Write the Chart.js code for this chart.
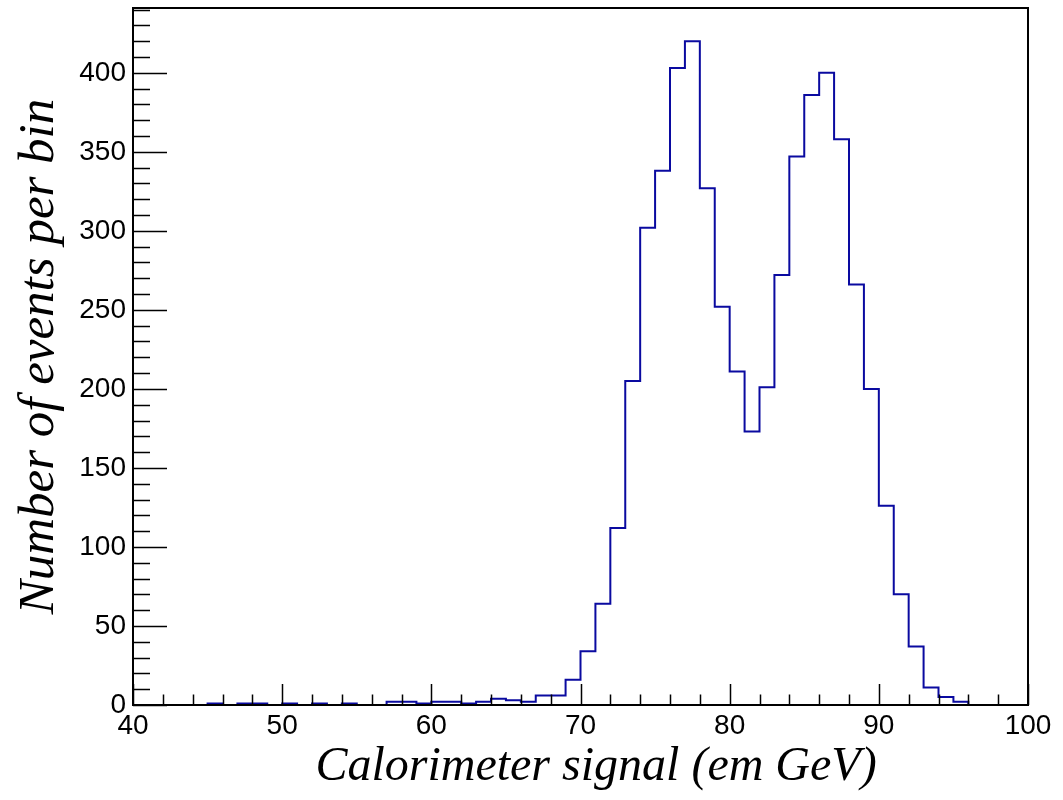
<!DOCTYPE html>
<html>
<head>
<meta charset="utf-8">
<title>Calorimeter signal</title>
<script src="https://cdn.jsdelivr.net/npm/chart.js@4/dist/chart.umd.min.js"></script>
<style>
  html, body { margin: 0; padding: 0; background: #fff; }
  #wrap { width: 1063px; height: 800px; }
</style>
</head>
<body>
<div id="wrap"><canvas id="histo" width="1063" height="800"></canvas></div>
<script>
// 1 GeV bins, lower edges 40..99
const binLow = [];
for (let e = 40; e < 100; e++) binLow.push(e);
const counts = [
  0, 0, 0, 0, 0, 1, 0, 1, 1, 0,          // 40-49
  1, 0, 1, 0, 1, 0, 0, 2, 2, 1,          // 50-59
  2, 2, 1, 2, 4, 3, 2, 6, 6, 16,         // 60-69
  34, 64, 112, 205, 302, 338, 403, 420, 327, 252,  // 70-79
  211, 173, 201, 272, 347, 386, 400, 358, 266, 200, // 80-89
  126, 70, 37, 11, 5, 2, 0, 0, 0, 0      // 90-99
];
const xRange = [40, 100];
const yRange = [0, 441];
const xMajorStep = 10, xMinorStep = 2;
const yMajorStep = 50, yMinorStep = 10;
const xTitle = "Calorimeter signal (em GeV)";
const yTitle = "Number of events per bin";

const points = binLow.map((x, i) => ({ x: x, y: counts[i] }));
points.push({ x: xRange[1], y: 0 });

// ROOT-like frame: box + ticks pointing inward, drawn over the histogram
const frameTicks = {
  id: "frameTicks",
  afterDatasetsDraw(chart) {
    const { ctx, chartArea: a, scales } = chart;
    const xs = scales.x, ys = scales.y;
    ctx.save();
    ctx.strokeStyle = "#000";
    ctx.lineWidth = 2;
    ctx.strokeRect(a.left, a.top, a.right - a.left, a.bottom - a.top);
    ctx.lineWidth = 1.5;
    ctx.beginPath();
    for (let v = xRange[0]; v <= xRange[1]; v += xMinorStep) {
      const px = Math.round(xs.getPixelForValue(v)) + 0.5;
      const len = v % xMajorStep === 0 ? 21 : 10.5;
      ctx.moveTo(px, a.bottom);
      ctx.lineTo(px, a.bottom - len);
    }
    for (let v = yRange[0]; v <= yRange[1]; v += yMinorStep) {
      const py = Math.round(ys.getPixelForValue(v)) + 0.5;
      const len = v % yMajorStep === 0 ? 34 : 17;
      ctx.moveTo(a.left, py);
      ctx.lineTo(a.left + len, py);
    }
    ctx.stroke();
    ctx.restore();
  },
  afterDraw(chart) {
    const { ctx, chartArea: a } = chart;
    ctx.save();
    ctx.fillStyle = "#000";
    ctx.textAlign = "center";
    ctx.textBaseline = "alphabetic";
    ctx.font = "italic 48px 'Liberation Serif', 'DejaVu Serif', serif";
    ctx.fillText(xTitle, 596, 780);
    ctx.font = "italic 51px 'Liberation Serif', 'DejaVu Serif', serif";
    ctx.translate(53, (a.top + a.bottom) / 2);
    ctx.rotate(-Math.PI / 2);
    ctx.fillText(yTitle, 0, 0);
    ctx.restore();
  }
};

new Chart(document.getElementById("histo"), {
  type: "line",
  data: {
    datasets: [{
      data: points,
      stepped: "before",
      borderColor: "#0a0aa0",
      borderWidth: 2,
      pointRadius: 0,
      fill: false
    }]
  },
  options: {
    responsive: false,
    animation: false,
    layout: { padding: { top: 8, right: 35, left: 0, bottom: 0 } },
    plugins: { legend: { display: false }, tooltip: { enabled: false } },
    scales: {
      x: {
        type: "linear",
        min: xRange[0],
        max: xRange[1],
        afterFit: s => { s.height = 95; s.paddingLeft = 0; s.paddingRight = 0; },
        grid: { display: false, drawTicks: false },
        border: { display: false },
        ticks: {
          stepSize: xMajorStep,
          padding: 4,
          maxRotation: 0,
          autoSkip: false,
          color: "#000",
          font: { family: "'Liberation Sans', Arial, sans-serif", size: 28 }
        }
      },
      y: {
        type: "linear",
        min: yRange[0],
        max: yRange[1],
        afterFit: s => { s.width = 133; s.paddingTop = 0; s.paddingBottom = 0; },
        grid: { display: false, drawTicks: false },
        border: { display: false },
        ticks: {
          stepSize: yMajorStep,
          includeBounds: false,
          padding: 7,
          color: "#000",
          font: { family: "'Liberation Sans', Arial, sans-serif", size: 28 }
        }
      }
    }
  },
  plugins: [frameTicks]
});
</script>
</body>
</html>
